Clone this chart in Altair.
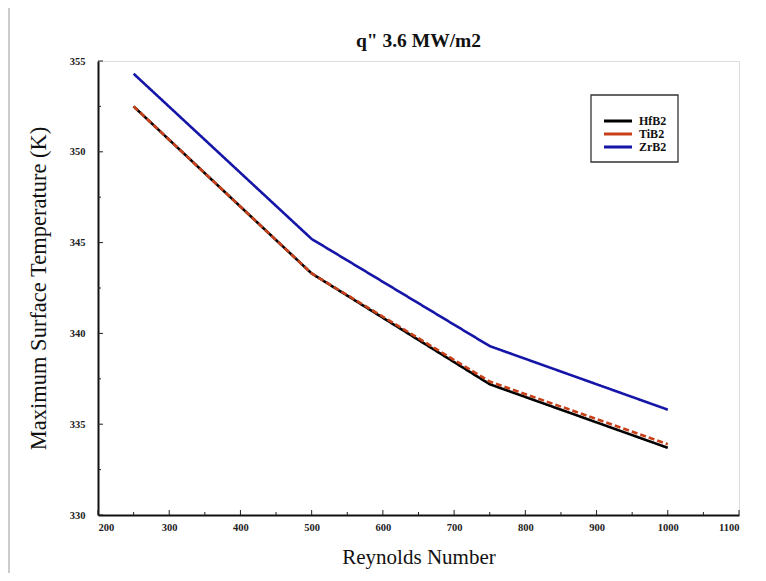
import altair as alt
import pandas as pd

reynolds = [250, 500, 750, 1000]
hfb2 = [352.5, 343.3, 337.2, 333.7]
tib2 = [352.5, 343.3, 337.35, 333.9]
zrb2 = [354.3, 345.2, 339.3, 335.8]
series = ["HfB2", "TiB2", "ZrB2"]
colors = ["#000000", "#c8401a", "#1515a8"]
dashes = ["solid", "dashed", "solid"]
title_text = 'q" 3.6 MW/m2'

x_major = list(range(200, 1101, 100))
x_minor = list(range(250, 1051, 100))
y_major = [330, 335, 340, 345, 350, 355]
y_minor = [332.5, 337.5, 342.5, 347.5, 352.5]

rows = []
for name, vals, d in zip(series, [hfb2, tib2, zrb2], dashes):
    for r, v in zip(reynolds, vals):
        rows.append({"Re": r, "T": v, "Material": name, "style": d})
df = pd.DataFrame(rows)

W, H = 641, 454
FONT = "Liberation Serif"

xs = alt.Scale(domain=[200, 1100], nice=False, zero=False)
ys = alt.Scale(domain=[330, 355], nice=False, zero=False)
cs = alt.Scale(domain=series, range=colors)

lines = alt.Chart(df).mark_line(strokeWidth=2.6).encode(
    x=alt.X("Re:Q", scale=xs,
            axis=alt.Axis(title="Reynolds Number", values=x_major, tickSize=0, format="d",
                          labelFont=FONT, labelFontWeight="bold", labelFontSize=10.5,
                          labelColor="#222", labelPadding=7, grid=False,
                          domainColor="#111", domainWidth=2,
                          titleFont=FONT, titleFontWeight="normal", titleFontSize=21,
                          titleColor="#111", titlePadding=14)),
    y=alt.Y("T:Q", scale=ys,
            axis=alt.Axis(title="Maximum Surface Temperature (K)", values=y_major,
                          tickSize=0, format="d", labelFont=FONT, labelFontWeight="bold",
                          labelFontSize=10.5, labelColor="#222", labelPadding=13,
                          grid=False, domainColor="#111", domainWidth=2,
                          titleFont=FONT, titleFontWeight="normal", titleFontSize=22.5,
                          titleColor="#111", titlePadding=19)),
    color=alt.Color("Material:N", scale=cs, legend=None),
    strokeDash=alt.StrokeDash("style:N",
                              scale=alt.Scale(domain=["solid", "dashed"],
                                              range=[[1, 0], [6, 3]]),
                              legend=None),
)

xt = pd.DataFrame({"v": x_major})
xm = pd.DataFrame({"v": x_minor})
yt = pd.DataFrame({"v": y_major})
ym = pd.DataFrame({"v": y_minor})

xticks = alt.Chart(xt).mark_rule(color="#222", strokeWidth=1).encode(
    x=alt.X("v:Q", scale=xs), y=alt.value(H), y2=alt.value(H - 5))
xmticks = alt.Chart(xm).mark_rule(color="#222", strokeWidth=1).encode(
    x=alt.X("v:Q", scale=xs), y=alt.value(H), y2=alt.value(H - 3))
yticks = alt.Chart(yt).mark_rule(color="#222", strokeWidth=1).encode(
    y=alt.Y("v:Q", scale=ys), x=alt.value(0), x2=alt.value(5))
ymticks = alt.Chart(ym).mark_rule(color="#222", strokeWidth=1).encode(
    y=alt.Y("v:Q", scale=ys), x=alt.value(0), x2=alt.value(3))

one = pd.DataFrame({"t": [title_text]})
frame_left = alt.Chart(one).mark_rule(color="#999", strokeWidth=1).encode(
    x=alt.value(-89), y=alt.value(-57), y2=alt.value(H + 70))
frame_top = alt.Chart(one).mark_rule(color="#999", strokeWidth=1).encode(
    y=alt.value(-57), x=alt.value(-89), x2=alt.value(W + 30))
title = alt.Chart(one).mark_text(font=FONT, fontSize=19.5, fontWeight="bold", color="#111",
                                 align="center", baseline="alphabetic").encode(
    text="t:N", x=alt.value(W / 2), y=alt.value(-14))

# custom legend
LX, LY, LW, LH = 493, 34, 87, 67
legend_box = alt.Chart(one).mark_rect(fill="white", stroke="#333", strokeWidth=1.3).encode(
    x=alt.value(LX), x2=alt.value(LX + LW), y=alt.value(LY), y2=alt.value(LY + LH))
legend_layers = [legend_box]
for i, (name, col) in enumerate(zip(series, colors)):
    d = pd.DataFrame({"Material": [name]})
    yy = 60 + 13 * i
    legend_layers.append(alt.Chart(d).mark_rule(strokeWidth=3).encode(
        color=alt.Color("Material:N", scale=cs, legend=None),
        x=alt.value(LX + 13), x2=alt.value(LX + 41), y=alt.value(yy)))
    legend_layers.append(alt.Chart(d).mark_text(font=FONT, fontSize=12, fontWeight="bold",
                                                color="#111", align="left",
                                                baseline="middle").encode(
        text="Material:N", x=alt.value(LX + 48), y=alt.value(yy)))

chart = alt.layer(frame_left, frame_top, title, lines, xticks, xmticks, yticks, ymticks,
                  *legend_layers).properties(
    width=W, height=H,
    autosize=alt.AutoSizeParams(type="none"),
    padding={"left": 90, "top": 53, "right": 19, "bottom": 58},
).configure_view(stroke="#6a6a6a", strokeWidth=2.5).configure(background="white")

chart.save("out.html", embed_options={"renderer": "svg", "actions": False})
